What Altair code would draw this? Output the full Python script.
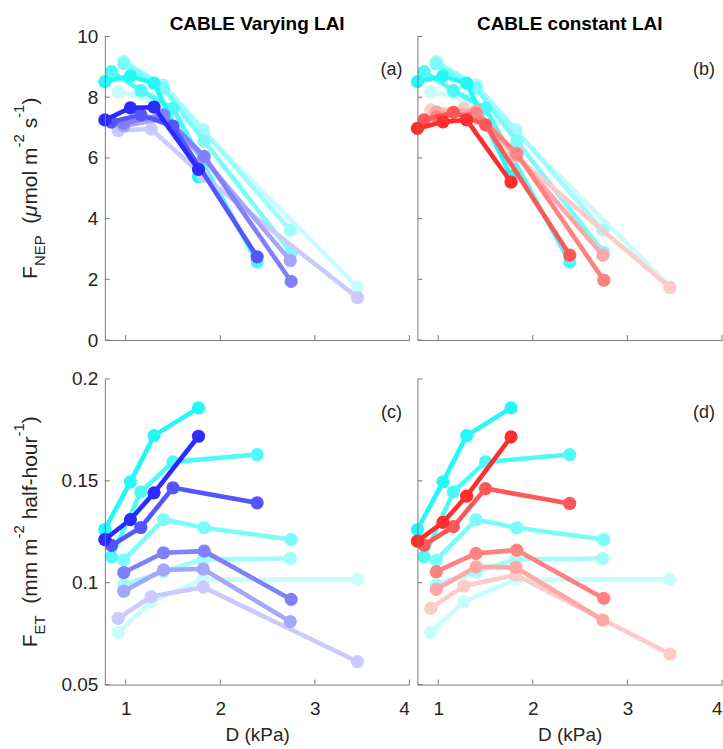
import altair as alt
import pandas as pd

# ---------------- data ----------------
D_BINS = [
    [0.78, 1.05, 1.30, 1.77],
    [0.85, 1.16, 1.50, 2.39],
    [0.98, 1.40, 1.83, 2.75],
    [0.98, 1.40, 1.82, 2.74],
    [0.92, 1.27, 1.82, 3.45],
]
NEP_OBS = [
    [8.51, 8.70, 8.46, 5.38],
    [8.84, 8.22, 7.63, 2.57],
    [9.10, 8.30, 6.55, 2.88],
    [9.17, 8.40, 6.92, 3.62],
    [8.18, 7.95, 6.85, 1.75],
]
NEP_VARYING = [
    [7.25, 7.65, 7.67, 5.62],
    [7.18, 7.42, 7.05, 2.74],
    [7.14, 7.42, 6.05, 1.93],
    [7.05, 7.30, 6.00, 2.62],
    [6.90, 6.95, 5.40, 1.40],
]
NEP_CONSTANT = [
    [6.97, 7.19, 7.25, 5.20],
    [7.25, 7.50, 7.09, 2.80],
    [7.35, 7.47, 6.15, 1.97],
    [7.52, 7.55, 6.10, 2.80],
    [7.58, 7.63, 6.05, 1.73],
]
ET_OBS = [
    [0.1261, 0.1495, 0.1722, 0.1858],
    [0.1127, 0.1446, 0.1593, 0.1629],
    [0.1111, 0.1310, 0.1270, 0.1212],
    [0.0989, 0.1054, 0.1115, 0.1119],
    [0.0755, 0.0907, 0.1016, 0.1016],
]
ET_VARYING = [
    [0.1212, 0.1310, 0.1441, 0.1719],
    [0.1183, 0.1271, 0.1466, 0.1392],
    [0.1050, 0.1147, 0.1155, 0.0918],
    [0.0958, 0.1063, 0.1067, 0.0809],
    [0.0825, 0.0932, 0.0978, 0.0613],
]
ET_CONSTANT = [
    [0.1204, 0.1296, 0.1425, 0.1716],
    [0.1185, 0.1275, 0.1462, 0.1389],
    [0.1054, 0.1144, 0.1160, 0.0923],
    [0.0967, 0.1078, 0.1075, 0.0817],
    [0.0874, 0.0984, 0.1038, 0.0650],
]
X_TICKS = [1, 2, 3, 4]
NEP_TICKS = [0, 2, 4, 6, 8, 10]
ET_TICKS = [0.05, 0.1, 0.15, 0.2]
COLUMN_TITLES = ["CABLE Varying LAI", "CABLE constant LAI"]
PANEL_LETTERS = ["(a)", "(b)", "(c)", "(d)"]
X_TITLE = "D (kPa)"
NEP_YTITLE = [("F", "main"), ("NEP", "sub"), (None, 2), ("(", "main"), ("μ", "ital"),
              ("mol m", "main"), ("-2", "sup"), (None, 1), ("s", "main"), ("-1", "sup"), (")", "main")]
ET_YTITLE = [("F", "main"), ("ET", "sub"), (None, 2), ("(mm m", "main"), ("-2", "sup"), (None, 1),
             ("half-hour", "main"), ("-1", "sup"), (")", "main")]

# ---------------- style ----------------
FONT = "Liberation Sans"
AX = "#7a7a7a"
TXT = "#262626"
CYAN = (36, 248, 248)
BLUE = (43, 43, 255)
RED = (255, 45, 45)
ALPHAS = [1.0, 0.8, 0.6, 0.42, 0.25]
W = 305
H_TOP = 304
H_BOT = 306
MAIN_FS = 21
SUB_FS = 15

ARIAL = {' ': .278, '(': .333, ')': .333, '-': .333, '1': .556, '2': .556, 'F': .611, 'N': .722,
         'E': .667, 'P': .667, 'T': .611, 'm': .833, 'o': .556, 'l': .222, 's': .5, 'h': .556,
         'a': .556, 'f': .278, 'u': .556, 'r': .333, 'μ': .576}


def blend(rgb, a):
    return "#%02x%02x%02x" % tuple(int(round(255 * (1 - a) + c * a)) for c in rgb)


def text_width(t, fs):
    return sum(ARIAL.get(ch, 0.55) for ch in t) * fs


def ytitle_layers(pieces, center_y):
    items = []
    total = 0.0
    for txt, kind in pieces:
        if txt is None:
            w = ARIAL[' '] * MAIN_FS * kind
        else:
            fs = SUB_FS if kind in ("sub", "sup") else MAIN_FS
            w = text_width(txt, fs)
        items.append((txt, kind, w))
        total += w
    y = center_y + total / 2.0
    layers = []
    xpos = {"main": -74, "ital": -74, "sub": -65, "sup": -86}
    for txt, kind, w in items:
        if txt is not None:
            fs = SUB_FS if kind in ("sub", "sup") else MAIN_FS
            layers.append(
                alt.Chart(pd.DataFrame({"a": [0]})).mark_text(
                    text=txt, angle=270, align="left", baseline="middle", font=FONT,
                    fontSize=fs, color=TXT, fontStyle="italic" if kind == "ital" else "normal",
                ).encode(x=alt.value(xpos[kind]), y=alt.value(y))
            )
        y -= w
    return layers


def make_panel(obs, model, model_rgb, ydom, yticks, yfmt, H, col, row, letter):
    bottom = row == 1
    left = col == 0
    xaxis_kw = dict(values=X_TICKS, labels=bottom, ticks=False, tickSize=0, grid=False,
                    domainColor=AX, domainWidth=1, zindex=1,
                    title=X_TITLE if bottom else None, labelPadding=15, titlePadding=7)
    if bottom and col == 1:
        xaxis_kw["labelFlush"] = True
    yaxis_kw = dict(values=yticks, labels=left, ticks=False, tickSize=0, grid=False,
                    domainColor=AX, domainWidth=1, zindex=1, title=None, labelPadding=7,
                    format=yfmt)
    X = alt.X("D:Q", scale=alt.Scale(domain=[0.78, 4], nice=False, zero=False),
              axis=alt.Axis(**xaxis_kw))
    Y = alt.Y("v:Q", scale=alt.Scale(domain=ydom, nice=False, zero=False),
              axis=alt.Axis(**yaxis_kw))

    layers = []
    layers.append(alt.Chart(pd.DataFrame({"D": X_TICKS})).mark_rule(color=AX, strokeWidth=1)
                  .encode(x=X, y=alt.value(H), y2=alt.value(H - 5)))
    layers.append(alt.Chart(pd.DataFrame({"v": yticks})).mark_rule(color=AX, strokeWidth=1)
                  .encode(y=Y, x=alt.value(0), x2=alt.value(5)))

    for group, rgb in ((obs, CYAN), (model, model_rgb)):
        for i in reversed(range(5)):
            c = blend(rgb, ALPHAS[i])
            df = pd.DataFrame({"D": D_BINS[i], "v": group[i], "k": list(range(4))})
            base = alt.Chart(df)
            layers.append(base.mark_line(color=c, strokeWidth=4.6, strokeJoin="round", strokeCap="round")
                          .encode(x=X, y=Y, order="k:Q"))
            layers.append(base.mark_circle(color=c, size=175, opacity=1).encode(x=X, y=Y))

    layers.append(alt.Chart(pd.DataFrame({"a": [0]})).mark_text(
        text=letter, font=FONT, fontSize=18, color=TXT, align="center", baseline="middle")
        .encode(x=alt.value(287), y=alt.value(34)))

    if row == 0:
        layers.append(alt.Chart(pd.DataFrame({"a": [0]})).mark_text(
            text=COLUMN_TITLES[col], font=FONT, fontSize=19, fontWeight="bold", color="#000000",
            align="center", baseline="middle").encode(x=alt.value(W / 2), y=alt.value(-12)))

    if left:
        layers += ytitle_layers(NEP_YTITLE if row == 0 else ET_YTITLE, H / 2)

    return alt.layer(*layers).properties(width=W, height=H)


pa = make_panel(NEP_OBS, NEP_VARYING, BLUE, [0, 10], NEP_TICKS, "d", H_TOP, 0, 0, PANEL_LETTERS[0])
pb = make_panel(NEP_OBS, NEP_CONSTANT, RED, [0, 10], NEP_TICKS, "d", H_TOP, 1, 0, PANEL_LETTERS[1])
pc = make_panel(ET_OBS, ET_VARYING, BLUE, [0.05, 0.2], ET_TICKS, "~g", H_BOT, 0, 1, PANEL_LETTERS[2])
pd_ = make_panel(ET_OBS, ET_CONSTANT, RED, [0.05, 0.2], ET_TICKS, "~g", H_BOT, 1, 1, PANEL_LETTERS[3])

chart = alt.concat(pa, pb, pc, pd_, columns=2, spacing={"row": 39, "column": 8},
                   bounds="flush").configure_view(stroke=None).configure_axis(
    labelFont=FONT, titleFont=FONT, labelFontSize=19, titleFontSize=19,
    labelColor=TXT, titleColor=TXT, titleFontWeight="normal",
).properties(padding={"left": 11, "top": 15, "right": 0, "bottom": 0}, background="white")

chart.save("out.html", embed_options={"renderer": "svg", "actions": False})
